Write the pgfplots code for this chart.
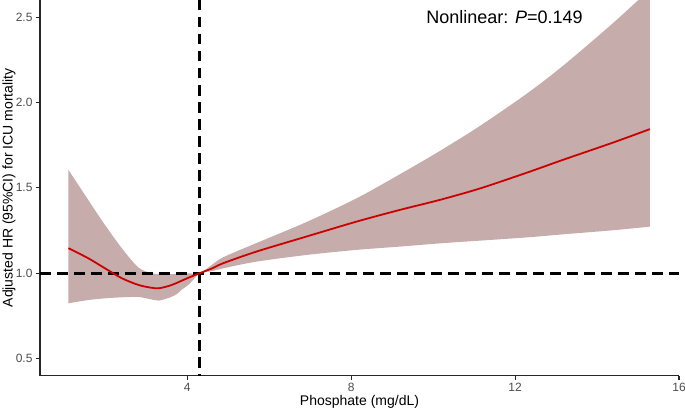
\documentclass[border=0pt]{standalone}
\usepackage{fontspec}
\setmainfont{Liberation Sans}
\usepackage{pgfplots}
\usepackage{pgfplotstable}
\pgfplotsset{compat=1.18}
\usepgfplotslibrary{fillbetween}

\definecolor{band}{RGB}{199,172,172}
\definecolor{curve}{RGB}{205,0,0}
\definecolor{ticktext}{RGB}{77,77,77}

% restricted cubic spline: estimate and 95% CI
\pgfplotstableread{
x     est    lo     hi
1.10  1.147  0.824  1.605
1.58  1.088  0.843  1.430
1.99  1.029  0.853  1.283
2.40  0.971  0.859  1.147
2.80  0.932  0.861  1.035
3.10  0.916  0.848  1.002
3.30  0.912  0.840  0.995
3.54  0.925  0.855  0.994
3.74  0.943  0.877  0.996
3.86  0.956  0.903  0.997
4.05  0.976  0.937  0.999
4.30  1.000  1.000  1.000
4.60  1.028  1.012  1.049
4.88  1.059  1.029  1.094
5.69  1.127  1.068  1.177
6.91  1.215  1.107  1.300
8.14  1.303  1.137  1.440
9.19  1.371  1.156  1.580
10.17 1.430  1.175  1.717
11.15 1.497  1.191  1.864
12.30 1.590  1.210  2.054
13.18 1.665  1.228  2.217
14.40 1.766  1.252  2.467
15.29 1.844  1.273  2.663
}\rcs

\begin{document}
\begin{tikzpicture}
\begin{axis}[
    name=ax,
    scale only axis,
    width=639pt, height=375.7pt,
    xmin=0.405, xmax=16,
    ymin=0.4, ymax=2.6,
    axis lines=left,
    axis line style={-, line width=1.1pt, black!85},
    xtick={4,8,12,16},
    ytick={0.5,1,1.5,2,2.5},
    yticklabel style={/pgf/number format/.cd, fixed, fixed zerofill, precision=1},
    tick align=outside,
    major tick length=4pt,
    tick style={line width=1.1pt, black!85},
    ticklabel style={font=\fontsize{12}{14}\selectfont, text=ticktext},
    /pgf/number format/assume math mode=true,
]
\addplot[name path=hi, draw=none, smooth] table[x=x, y=hi] {\rcs};
\addplot[name path=lo, draw=none, smooth] table[x=x, y=lo] {\rcs};
\addplot[band, draw=none] fill between[of=hi and lo];

% reference lines
\addplot[black, line width=2.6pt, dash pattern=on 10.5pt off 6.5pt] coordinates {(0.405,1) (16,1)};
\addplot[black, line width=2.6pt, dash pattern=on 10.5pt off 6.5pt] coordinates {(4.3,2.6) (4.3,0.4)};

\addplot[curve, line width=1.8pt, smooth] table[x=x, y=est] {\rcs};

\node[anchor=base west, inner sep=0, font=\fontsize{18}{20}\selectfont] at (axis cs:9.83,2.463) {Nonlinear: \textit{P}=0.149};
\end{axis}

\node[rotate=90, font=\fontsize{14}{16}\selectfont] at ([xshift=-31pt]ax.west) {Adjusted HR (95\%CI) for ICU mortality};
\node[anchor=base, font=\fontsize{14}{16}\selectfont] at ([yshift=-29.8pt]ax.south) {Phosphate (mg/dL)};

\pgfresetboundingbox
\path[use as bounding box] ([xshift=-40pt, yshift=-34.3pt]ax.south west) rectangle ([xshift=6pt]ax.north east);
\end{tikzpicture}
\end{document}
